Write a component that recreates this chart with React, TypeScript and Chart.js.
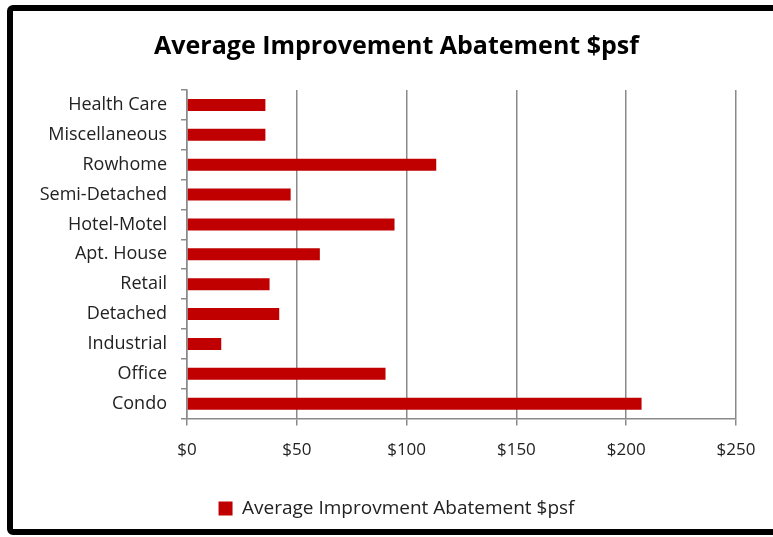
import React, { useEffect, useRef } from "react";
import { Chart, registerables } from "chart.js";

Chart.register(...registerables);

const categories = [
  "Health Care",
  "Miscellaneous",
  "Rowhome",
  "Semi-Detached",
  "Hotel-Motel",
  "Apt. House",
  "Retail",
  "Detached",
  "Industrial",
  "Office",
  "Condo",
];
const values = [35.7, 35.7, 113.5, 47.2, 94.5, 60.5, 37.6, 42.0, 15.6, 90.4, 207.0];
const seriesLabel = "Average Improvment Abatement $psf";
const titleText = "Average Improvement Abatement $psf";

const FONT = "'Open Sans', 'Noto Sans', sans-serif";

export default function App() {
  const ref = useRef<HTMLCanvasElement | null>(null);
  useEffect(() => {
    if (!ref.current) return;
    const chart = new Chart(ref.current, {
      type: "bar",
      data: {
        labels: categories,
        datasets: [
          {
            label: seriesLabel,
            data: values,
            backgroundColor: "#C00000",
            borderColor: "#C00000",
            borderWidth: 0,
            barPercentage: 0.4,
            categoryPercentage: 1,
            xAxisID: "x",
            yAxisID: "y",
          },
        ],
      },
      options: {
        indexAxis: "y",
        animation: false,
        responsive: false,
        layout: { padding: { left: 20, right: 0, top: 0, bottom: 9 } },
        plugins: {
          title: {
            display: true,
            text: titleText,
            color: "#000",
            font: { family: FONT, size: 25, weight: "bold" },
            padding: { top: 32, bottom: 28 },
          },
          legend: {
            display: true,
            position: "bottom",
            labels: {
              boxWidth: 14,
              boxHeight: 14,
              color: "#222",
              font: { family: FONT, size: 19 },
              padding: 25,
            },
          },
          tooltip: { enabled: false },
        },
        scales: {
          x: {
            min: 0,
            max: 250,
            ticks: {
              stepSize: 50,
              color: "#222",
              font: { family: FONT, size: 17 },
              padding: 14,
              callback: (v: any) => "$" + v,
            },
            grid: {
              color: "#8a8a8a",
              lineWidth: 1.5,
              tickLength: 7,
              drawTicks: true,
            },
            border: { color: "#8a8a8a", width: 1.5 },
          },
          y: {
            position: "left",
            ticks: {
              color: "#222",
              font: { family: FONT, size: 18 },
              padding: 14,
            },
            grid: {
              offset: true,
              drawOnChartArea: false,
              drawTicks: true,
              tickLength: 6,
              color: "#8a8a8a",
              lineWidth: 1.5,
            },
            border: { color: "#8a8a8a", width: 1.5 },
            afterFit: (s: any) => {
              s.width = 167;
            },
          },
          yRight: {
            type: "category",
            position: "right",
            display: true,
            ticks: { display: false },
            grid: { display: false, drawTicks: false },
            border: { display: false },
            afterFit: (s: any) => {
              s.width = 37;
            },
          },
        },
      },
    });
    return () => chart.destroy();
  }, []);
  return (
    <div style={{ position: "fixed", left: 0, top: 0, width: 773, height: 537, background: "#fff", overflow: "hidden" }}>
      <canvas ref={ref} width={773} height={537} style={{ position: "absolute", left: 0, top: 0 }} />
      <div
        style={{
          position: "absolute",
          left: 7,
          top: 5,
          width: 800,
          height: 518,
          border: "6px solid #000",
          borderRadius: 6,
          pointerEvents: "none",
        }}
      />
    </div>
  );
}
